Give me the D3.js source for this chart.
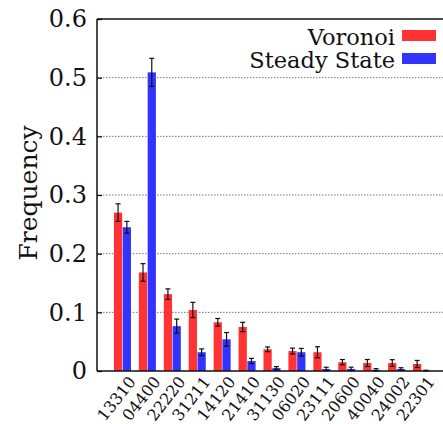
<!DOCTYPE html>
<html>
<head>
<meta charset="utf-8">
<script src="https://cdn.jsdelivr.net/npm/d3@7"></script>
<style>
  body { margin: 0; background: #fff; }
  text { font-family: "DejaVu Serif", serif; fill: #111; }
</style>
</head>
<body>
<div id="chart" style="width:443px;height:424px"></div>
<script>
var categories = ['13310','04400','22220','31211','14120','21410','31130','06020','23111','20600','40040','24002','22301']
var voronoi    = [0.270, 0.168, 0.131, 0.104, 0.083, 0.075, 0.037, 0.034, 0.032, 0.015, 0.0136, 0.0136, 0.012]
var voronoiErr = [0.015, 0.015, 0.009, 0.013, 0.0065, 0.008, 0.004, 0.005, 0.0094, 0.0045, 0.006, 0.0057, 0.006]
var steady     = [0.245, 0.509, 0.0765, 0.032, 0.054, 0.017, 0.005, 0.032, 0.0034, 0.0035, 0.002, 0.0034, 0.0005]
var steadyErr  = [0.010, 0.024, 0.012, 0.0057, 0.0116, 0.0045, 0.0025, 0.0065, 0.003, 0.003, 0.002, 0.0022, 0.0008]
var yTicks = [0, 0.1, 0.2, 0.3, 0.4, 0.5, 0.6]
var seriesNames = ['Voronoi', 'Steady State']
var colors = ['#ff3333', '#3333ff']

var width = 443, height = 424
var margin = {top: 19, left: 97, bottom: 53}
var plotRight = 447
var y0 = height - margin.bottom

var svg = d3.select('#chart').append('svg').attr('width', width).attr('height', height)

var y = d3.scaleLinear().domain([0, 0.6]).range([y0, margin.top])
var x = d3.scaleBand().domain(categories).range([margin.left, plotRight])
  .paddingInner(0.317).paddingOuter(0.68)
var xs = d3.scaleBand().domain([0, 1]).range([0, x.bandwidth()]).paddingInner(0.06)

// grid
svg.append('g').selectAll('line').data(yTicks.slice(1, 6)).enter().append('line')
  .attr('x1', margin.left).attr('x2', width)
  .attr('y1', function (d) { return y(d) }).attr('y2', function (d) { return y(d) })
  .attr('stroke', '#777').attr('stroke-dasharray', '1.5,1.5')

// bars
var series = [
  {vals: voronoi, err: voronoiErr},
  {vals: steady, err: steadyErr}
]
series.forEach(function (s, k) {
  var g = svg.append('g')
  g.selectAll('rect').data(s.vals).enter().append('rect')
    .attr('x', function (d, i) { return x(categories[i]) + xs(k) })
    .attr('width', xs.bandwidth())
    .attr('y', function (d) { return y(d) })
    .attr('height', function (d) { return y0 - y(d) })
    .attr('fill', colors[k])
  // error bars
  var eb = g.selectAll('g.err').data(s.vals).enter().append('g')
    .attr('stroke', '#111').attr('stroke-width', 1.2)
  eb.append('line')
    .attr('x1', function (d, i) { return x(categories[i]) + xs(k) + xs.bandwidth() / 2 })
    .attr('x2', function (d, i) { return x(categories[i]) + xs(k) + xs.bandwidth() / 2 })
    .attr('y1', function (d, i) { return y(d + s.err[i]) })
    .attr('y2', function (d, i) { return y(Math.max(0, d - s.err[i])) })
  ;[1, -1].forEach(function (sg) {
    eb.append('line')
      .attr('x1', function (d, i) { return x(categories[i]) + xs(k) + xs.bandwidth() / 2 - 2.5 })
      .attr('x2', function (d, i) { return x(categories[i]) + xs(k) + xs.bandwidth() / 2 + 2.5 })
      .attr('y1', function (d, i) { return y(Math.max(0, d + sg * s.err[i])) })
      .attr('y2', function (d, i) { return y(Math.max(0, d + sg * s.err[i])) })
  })
})

// axes
var yAxis = d3.axisLeft(y).tickValues(yTicks).tickSize(-5).tickPadding(10)
  .tickFormat(function (d) { return d === 0 ? '0' : d3.format('.1f')(d) })
var ga = svg.append('g').attr('transform', 'translate(' + margin.left + ',0)').call(yAxis)
ga.select('.domain').remove()
ga.selectAll('.tick line').attr('stroke', '#111').attr('stroke-width', 1.3)
ga.selectAll('.tick text').attr('font-size', 24).attr('font-family', 'DejaVu Serif').attr('fill', '#111')

svg.append('line').attr('x1', margin.left).attr('x2', margin.left)
  .attr('y1', margin.top).attr('y2', y0).attr('stroke', '#111').attr('stroke-width', 1.5)
svg.append('line').attr('x1', margin.left).attr('x2', width)
  .attr('y1', y0).attr('y2', y0).attr('stroke', '#111').attr('stroke-width', 1.5)
svg.append('line').attr('x1', margin.left).attr('x2', width)
  .attr('y1', margin.top).attr('y2', margin.top).attr('stroke', '#111').attr('stroke-width', 1.5)

// x labels
svg.append('g').selectAll('text').data(categories).enter().append('text')
  .attr('transform', function (d) {
    return 'translate(' + (x(d) + x.bandwidth() / 2 + 14) + ',' + (y0 + 11) + ') rotate(-52)'
  })
  .attr('text-anchor', 'end')
  .attr('font-size', 16)
  .text(function (d) { return d })

// y title
svg.append('text')
  .attr('transform', 'translate(37,193) rotate(-90)')
  .attr('text-anchor', 'middle')
  .attr('font-size', 25)
  .text('Frequency')

// legend
var lg = svg.append('g').selectAll('g').data(seriesNames).enter().append('g')
  .attr('transform', function (d, i) { return 'translate(0,' + (45 + i * 23) + ')' })
lg.append('text').attr('x', 395).attr('text-anchor', 'end').attr('font-size', 22.5)
  .text(function (d) { return d })
lg.append('rect').attr('x', 402).attr('y', -15).attr('width', 34).attr('height', 11)
  .attr('fill', function (d, i) { return colors[i] })
</script>
</body>
</html>
